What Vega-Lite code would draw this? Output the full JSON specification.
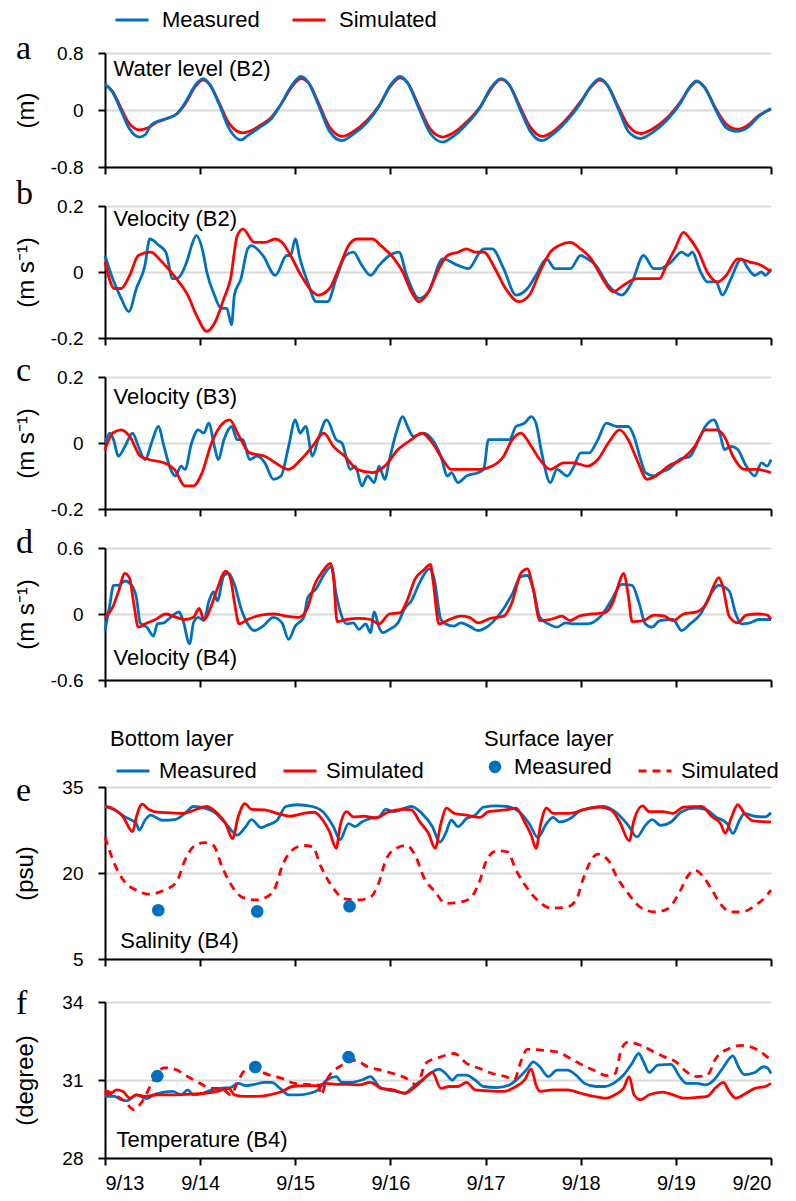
{
"$schema": "https://vega.github.io/schema/vega-lite/v6.json",
"padding": {"left": 13, "top": 0, "right": 5, "bottom": 2},
"config": {
 "font": "Liberation Sans",
 "view": {"stroke": null},
 "axis": {"domainColor": "#000000", "domainWidth": 2, "tickColor": "#000000", "tickWidth": 2, "tickSize": 7, "labelFont": "Liberation Sans", "labelFontSize": 19, "labelColor": "#000000", "titleFont": "Liberation Sans", "titleFontSize": 24, "titleFontWeight": "normal", "titleColor": "#000000", "gridColor": "#d9d9d9", "gridWidth": 2},
 "axisY": {"grid": true, "labelPadding": 15, "titlePadding": 12},
 "axisX": {"grid": false, "labelPadding": 8, "labelFontSize": 20},
 "legend": {"labelFont": "Liberation Sans", "labelFontSize": 22, "labelColor": "#000000", "titleFont": "Liberation Sans", "titleFontSize": 22, "titleFontWeight": "normal", "titleColor": "#000000", "symbolStrokeWidth": 3, "layout": {"top": {"anchor": "start", "margin": 50}}},
 "title": {"font": "Liberation Serif", "fontSize": 34, "fontWeight": "normal", "color": "#000000", "anchor": "start", "frame": "group", "dx": -89, "baseline": "alphabetic"},
 "line": {"strokeWidth": 2.8, "interpolate": "monotone"},
 "text": {"font": "Liberation Sans", "fontSize": 22, "color": "#000000", "align": "left", "baseline": "middle"}
},
"datasets": {
 "a": [
  {"day":0,"value":0.36,"series":"Simulated"},{"day":0.08,"value":0.26,"series":"Simulated"},{"day":0.16,"value":0.05,"series":"Simulated"},{"day":0.25,"value":-0.18,"series":"Simulated"},{"day":0.37,"value":-0.28,"series":"Simulated"},{"day":0.45,"value":-0.25,"series":"Simulated"},{"day":0.55,"value":-0.17,"series":"Simulated"},{"day":0.65,"value":-0.12,"series":"Simulated"},{"day":0.76,"value":-0.05,"series":"Simulated"},{"day":0.85,"value":0.10,"series":"Simulated"},{"day":0.95,"value":0.33,"series":"Simulated"},{"day":1.03,"value":0.42,"series":"Simulated"},{"day":1.10,"value":0.36,"series":"Simulated"},{"day":1.20,"value":0.10,"series":"Simulated"},{"day":1.30,"value":-0.18,"series":"Simulated"},{"day":1.45,"value":-0.32,"series":"Simulated"},{"day":1.55,"value":-0.28,"series":"Simulated"},{"day":1.65,"value":-0.20,"series":"Simulated"},{"day":1.75,"value":-0.10,"series":"Simulated"},{"day":1.85,"value":0.08,"series":"Simulated"},{"day":1.95,"value":0.30,"series":"Simulated"},{"day":2.06,"value":0.44,"series":"Simulated"},{"day":2.14,"value":0.38,"series":"Simulated"},{"day":2.25,"value":0.08,"series":"Simulated"},{"day":2.36,"value":-0.24,"series":"Simulated"},{"day":2.50,"value":-0.37,"series":"Simulated"},{"day":2.60,"value":-0.31,"series":"Simulated"},{"day":2.75,"value":-0.15,"series":"Simulated"},{"day":2.88,"value":0.06,"series":"Simulated"},{"day":3.00,"value":0.33,"series":"Simulated"},{"day":3.10,"value":0.45,"series":"Simulated"},{"day":3.18,"value":0.38,"series":"Simulated"},{"day":3.30,"value":0.05,"series":"Simulated"},{"day":3.42,"value":-0.27,"series":"Simulated"},{"day":3.55,"value":-0.38,"series":"Simulated"},{"day":3.65,"value":-0.33,"series":"Simulated"},{"day":3.80,"value":-0.17,"series":"Simulated"},{"day":3.95,"value":0.06,"series":"Simulated"},{"day":4.05,"value":0.28,"series":"Simulated"},{"day":4.16,"value":0.43,"series":"Simulated"},{"day":4.25,"value":0.35,"series":"Simulated"},{"day":4.36,"value":0.05,"series":"Simulated"},{"day":4.47,"value":-0.24,"series":"Simulated"},{"day":4.60,"value":-0.37,"series":"Simulated"},{"day":4.70,"value":-0.31,"series":"Simulated"},{"day":4.85,"value":-0.13,"series":"Simulated"},{"day":5.00,"value":0.12,"series":"Simulated"},{"day":5.10,"value":0.31,"series":"Simulated"},{"day":5.20,"value":0.42,"series":"Simulated"},{"day":5.28,"value":0.35,"series":"Simulated"},{"day":5.40,"value":0.03,"series":"Simulated"},{"day":5.50,"value":-0.22,"series":"Simulated"},{"day":5.63,"value":-0.33,"series":"Simulated"},{"day":5.75,"value":-0.27,"series":"Simulated"},{"day":5.90,"value":-0.12,"series":"Simulated"},{"day":6.05,"value":0.12,"series":"Simulated"},{"day":6.15,"value":0.32,"series":"Simulated"},{"day":6.22,"value":0.40,"series":"Simulated"},{"day":6.30,"value":0.32,"series":"Simulated"},{"day":6.42,"value":0.02,"series":"Simulated"},{"day":6.53,"value":-0.20,"series":"Simulated"},{"day":6.65,"value":-0.27,"series":"Simulated"},{"day":6.75,"value":-0.22,"series":"Simulated"},{"day":6.88,"value":-0.07,"series":"Simulated"},{"day":7.00,"value":0.01,"series":"Simulated"},
  {"day":0,"value":0.36,"series":"Measured"},{"day":0.08,"value":0.25,"series":"Measured"},{"day":0.16,"value":0.02,"series":"Measured"},{"day":0.25,"value":-0.25,"series":"Measured"},{"day":0.36,"value":-0.38,"series":"Measured"},{"day":0.42,"value":-0.35,"series":"Measured"},{"day":0.48,"value":-0.22,"series":"Measured"},{"day":0.55,"value":-0.16,"series":"Measured"},{"day":0.65,"value":-0.12,"series":"Measured"},{"day":0.76,"value":-0.05,"series":"Measured"},{"day":0.85,"value":0.12,"series":"Measured"},{"day":0.95,"value":0.35,"series":"Measured"},{"day":1.03,"value":0.44,"series":"Measured"},{"day":1.10,"value":0.36,"series":"Measured"},{"day":1.20,"value":0.08,"series":"Measured"},{"day":1.30,"value":-0.25,"series":"Measured"},{"day":1.43,"value":-0.42,"series":"Measured"},{"day":1.50,"value":-0.36,"series":"Measured"},{"day":1.62,"value":-0.25,"series":"Measured"},{"day":1.75,"value":-0.12,"series":"Measured"},{"day":1.85,"value":0.08,"series":"Measured"},{"day":1.95,"value":0.32,"series":"Measured"},{"day":2.06,"value":0.47,"series":"Measured"},{"day":2.14,"value":0.38,"series":"Measured"},{"day":2.25,"value":0.05,"series":"Measured"},{"day":2.36,"value":-0.30,"series":"Measured"},{"day":2.49,"value":-0.43,"series":"Measured"},{"day":2.60,"value":-0.35,"series":"Measured"},{"day":2.75,"value":-0.18,"series":"Measured"},{"day":2.88,"value":0.05,"series":"Measured"},{"day":3.00,"value":0.35,"series":"Measured"},{"day":3.10,"value":0.47,"series":"Measured"},{"day":3.18,"value":0.38,"series":"Measured"},{"day":3.30,"value":0.02,"series":"Measured"},{"day":3.42,"value":-0.33,"series":"Measured"},{"day":3.55,"value":-0.45,"series":"Measured"},{"day":3.65,"value":-0.38,"series":"Measured"},{"day":3.80,"value":-0.20,"series":"Measured"},{"day":3.95,"value":0.05,"series":"Measured"},{"day":4.05,"value":0.30,"series":"Measured"},{"day":4.16,"value":0.44,"series":"Measured"},{"day":4.25,"value":0.35,"series":"Measured"},{"day":4.36,"value":0.02,"series":"Measured"},{"day":4.47,"value":-0.30,"series":"Measured"},{"day":4.59,"value":-0.43,"series":"Measured"},{"day":4.70,"value":-0.35,"series":"Measured"},{"day":4.85,"value":-0.16,"series":"Measured"},{"day":5.00,"value":0.10,"series":"Measured"},{"day":5.10,"value":0.32,"series":"Measured"},{"day":5.20,"value":0.44,"series":"Measured"},{"day":5.28,"value":0.35,"series":"Measured"},{"day":5.40,"value":0.00,"series":"Measured"},{"day":5.50,"value":-0.30,"series":"Measured"},{"day":5.63,"value":-0.40,"series":"Measured"},{"day":5.75,"value":-0.32,"series":"Measured"},{"day":5.90,"value":-0.15,"series":"Measured"},{"day":6.05,"value":0.10,"series":"Measured"},{"day":6.15,"value":0.33,"series":"Measured"},{"day":6.22,"value":0.41,"series":"Measured"},{"day":6.30,"value":0.32,"series":"Measured"},{"day":6.42,"value":0.00,"series":"Measured"},{"day":6.53,"value":-0.25,"series":"Measured"},{"day":6.64,"value":-0.30,"series":"Measured"},{"day":6.75,"value":-0.25,"series":"Measured"},{"day":6.88,"value":-0.08,"series":"Measured"},{"day":7.00,"value":0.02,"series":"Measured"}
 ],
 "b": [
  {"day":0,"value":0.05,"series":"Measured"},{"day":0.08,"value":-0.02,"series":"Measured"},{"day":0.17,"value":-0.08,"series":"Measured"},{"day":0.25,"value":-0.12,"series":"Measured"},{"day":0.33,"value":-0.05,"series":"Measured"},{"day":0.42,"value":0.02,"series":"Measured"},{"day":0.47,"value":0.10,"series":"Measured"},{"day":0.57,"value":0.08,"series":"Measured"},{"day":0.64,"value":0.06,"series":"Measured"},{"day":0.71,"value":-0.02,"series":"Measured"},{"day":0.75,"value":-0.02,"series":"Measured"},{"day":0.87,"value":0.04,"series":"Measured"},{"day":0.91,"value":0.08,"series":"Measured"},{"day":0.96,"value":0.11,"series":"Measured"},{"day":1.03,"value":0.06,"series":"Measured"},{"day":1.07,"value":0.0,"series":"Measured"},{"day":1.15,"value":-0.07,"series":"Measured"},{"day":1.22,"value":-0.11,"series":"Measured"},{"day":1.28,"value":-0.11,"series":"Measured"},{"day":1.33,"value":-0.16,"series":"Measured"},{"day":1.36,"value":-0.07,"series":"Measured"},{"day":1.43,"value":-0.02,"series":"Measured"},{"day":1.50,"value":0.07,"series":"Measured"},{"day":1.54,"value":0.08,"series":"Measured"},{"day":1.66,"value":0.05,"series":"Measured"},{"day":1.79,"value":-0.01,"series":"Measured"},{"day":1.91,"value":0.05,"series":"Measured"},{"day":1.95,"value":0.05,"series":"Measured"},{"day":2.00,"value":0.10,"series":"Measured"},{"day":2.05,"value":0.04,"series":"Measured"},{"day":2.13,"value":-0.03,"series":"Measured"},{"day":2.22,"value":-0.09,"series":"Measured"},{"day":2.34,"value":-0.09,"series":"Measured"},{"day":2.43,"value":-0.02,"series":"Measured"},{"day":2.53,"value":0.05,"series":"Measured"},{"day":2.61,"value":0.06,"series":"Measured"},{"day":2.70,"value":0.02,"series":"Measured"},{"day":2.79,"value":-0.01,"series":"Measured"},{"day":2.88,"value":0.02,"series":"Measured"},{"day":2.99,"value":0.05,"series":"Measured"},{"day":3.09,"value":0.06,"series":"Measured"},{"day":3.17,"value":-0.01,"series":"Measured"},{"day":3.30,"value":-0.08,"series":"Measured"},{"day":3.40,"value":-0.06,"series":"Measured"},{"day":3.55,"value":0.04,"series":"Measured"},{"day":3.71,"value":0.02,"series":"Measured"},{"day":3.82,"value":0.01,"series":"Measured"},{"day":3.94,"value":0.06,"series":"Measured"},{"day":3.98,"value":0.07,"series":"Measured"},{"day":4.07,"value":0.07,"series":"Measured"},{"day":4.19,"value":0.01,"series":"Measured"},{"day":4.32,"value":-0.07,"series":"Measured"},{"day":4.44,"value":-0.05,"series":"Measured"},{"day":4.53,"value":-0.01,"series":"Measured"},{"day":4.64,"value":0.04,"series":"Measured"},{"day":4.73,"value":0.01,"series":"Measured"},{"day":4.89,"value":0.01,"series":"Measured"},{"day":5.00,"value":0.05,"series":"Measured"},{"day":5.07,"value":0.04,"series":"Measured"},{"day":5.16,"value":0.02,"series":"Measured"},{"day":5.29,"value":-0.04,"series":"Measured"},{"day":5.43,"value":-0.07,"series":"Measured"},{"day":5.54,"value":-0.03,"series":"Measured"},{"day":5.66,"value":0.05,"series":"Measured"},{"day":5.77,"value":0.01,"series":"Measured"},{"day":5.83,"value":0.01,"series":"Measured"},{"day":5.95,"value":0.03,"series":"Measured"},{"day":6.06,"value":0.06,"series":"Measured"},{"day":6.13,"value":0.05,"series":"Measured"},{"day":6.17,"value":0.06,"series":"Measured"},{"day":6.26,"value":0.0,"series":"Measured"},{"day":6.33,"value":-0.03,"series":"Measured"},{"day":6.42,"value":-0.03,"series":"Measured"},{"day":6.49,"value":-0.07,"series":"Measured"},{"day":6.58,"value":-0.02,"series":"Measured"},{"day":6.69,"value":0.04,"series":"Measured"},{"day":6.76,"value":0.01,"series":"Measured"},{"day":6.83,"value":-0.01,"series":"Measured"},{"day":6.90,"value":0.0,"series":"Measured"},{"day":6.94,"value":-0.01,"series":"Measured"},{"day":7.0,"value":0.01,"series":"Measured"},
  {"day":0,"value":0.03,"series":"Simulated"},{"day":0.10,"value":-0.05,"series":"Simulated"},{"day":0.17,"value":-0.05,"series":"Simulated"},{"day":0.26,"value":-0.01,"series":"Simulated"},{"day":0.35,"value":0.05,"series":"Simulated"},{"day":0.48,"value":0.06,"series":"Simulated"},{"day":0.60,"value":0.03,"series":"Simulated"},{"day":0.75,"value":-0.02,"series":"Simulated"},{"day":0.87,"value":-0.07,"series":"Simulated"},{"day":0.96,"value":-0.13,"series":"Simulated"},{"day":1.07,"value":-0.18,"series":"Simulated"},{"day":1.16,"value":-0.15,"series":"Simulated"},{"day":1.25,"value":-0.08,"series":"Simulated"},{"day":1.32,"value":-0.02,"series":"Simulated"},{"day":1.39,"value":0.11,"series":"Simulated"},{"day":1.45,"value":0.13,"series":"Simulated"},{"day":1.57,"value":0.09,"series":"Simulated"},{"day":1.68,"value":0.09,"series":"Simulated"},{"day":1.79,"value":0.10,"series":"Simulated"},{"day":1.86,"value":0.09,"series":"Simulated"},{"day":1.95,"value":0.05,"series":"Simulated"},{"day":2.06,"value":-0.01,"series":"Simulated"},{"day":2.18,"value":-0.06,"series":"Simulated"},{"day":2.24,"value":-0.07,"series":"Simulated"},{"day":2.36,"value":-0.05,"series":"Simulated"},{"day":2.47,"value":0.02,"series":"Simulated"},{"day":2.56,"value":0.08,"series":"Simulated"},{"day":2.65,"value":0.10,"series":"Simulated"},{"day":2.81,"value":0.10,"series":"Simulated"},{"day":2.90,"value":0.08,"series":"Simulated"},{"day":3.04,"value":0.04,"series":"Simulated"},{"day":3.13,"value":0.0,"series":"Simulated"},{"day":3.22,"value":-0.06,"series":"Simulated"},{"day":3.30,"value":-0.09,"series":"Simulated"},{"day":3.40,"value":-0.06,"series":"Simulated"},{"day":3.51,"value":0.01,"series":"Simulated"},{"day":3.60,"value":0.05,"series":"Simulated"},{"day":3.71,"value":0.06,"series":"Simulated"},{"day":3.80,"value":0.07,"series":"Simulated"},{"day":3.89,"value":0.06,"series":"Simulated"},{"day":3.98,"value":0.06,"series":"Simulated"},{"day":4.10,"value":0.01,"series":"Simulated"},{"day":4.21,"value":-0.05,"series":"Simulated"},{"day":4.35,"value":-0.09,"series":"Simulated"},{"day":4.46,"value":-0.07,"series":"Simulated"},{"day":4.57,"value":0.0,"series":"Simulated"},{"day":4.68,"value":0.06,"series":"Simulated"},{"day":4.77,"value":0.08,"series":"Simulated"},{"day":4.89,"value":0.09,"series":"Simulated"},{"day":5.00,"value":0.07,"series":"Simulated"},{"day":5.11,"value":0.04,"series":"Simulated"},{"day":5.23,"value":-0.02,"series":"Simulated"},{"day":5.34,"value":-0.06,"series":"Simulated"},{"day":5.45,"value":-0.04,"series":"Simulated"},{"day":5.59,"value":-0.02,"series":"Simulated"},{"day":5.72,"value":-0.02,"series":"Simulated"},{"day":5.83,"value":-0.02,"series":"Simulated"},{"day":5.90,"value":0.02,"series":"Simulated"},{"day":5.99,"value":0.07,"series":"Simulated"},{"day":6.08,"value":0.12,"series":"Simulated"},{"day":6.15,"value":0.10,"series":"Simulated"},{"day":6.24,"value":0.06,"series":"Simulated"},{"day":6.33,"value":0.0,"series":"Simulated"},{"day":6.44,"value":-0.03,"series":"Simulated"},{"day":6.53,"value":-0.01,"series":"Simulated"},{"day":6.65,"value":0.04,"series":"Simulated"},{"day":6.78,"value":0.03,"series":"Simulated"},{"day":6.90,"value":0.02,"series":"Simulated"},{"day":7.0,"value":0.0,"series":"Simulated"}
 ],
 "c": [
  {"day":0,"value":0.0,"series":"Measured"},{"day":0.05,"value":0.03,"series":"Measured"},{"day":0.09,"value":0.01,"series":"Measured"},{"day":0.14,"value":-0.04,"series":"Measured"},{"day":0.21,"value":-0.01,"series":"Measured"},{"day":0.29,"value":0.03,"series":"Measured"},{"day":0.35,"value":-0.01,"series":"Measured"},{"day":0.42,"value":-0.05,"series":"Measured"},{"day":0.50,"value":0.01,"series":"Measured"},{"day":0.56,"value":0.05,"series":"Measured"},{"day":0.62,"value":-0.01,"series":"Measured"},{"day":0.69,"value":-0.08,"series":"Measured"},{"day":0.74,"value":-0.10,"series":"Measured"},{"day":0.80,"value":-0.07,"series":"Measured"},{"day":0.84,"value":-0.08,"series":"Measured"},{"day":0.91,"value":0.0,"series":"Measured"},{"day":0.98,"value":0.04,"series":"Measured"},{"day":1.04,"value":0.03,"series":"Measured"},{"day":1.09,"value":0.06,"series":"Measured"},{"day":1.15,"value":-0.01,"series":"Measured"},{"day":1.19,"value":-0.05,"series":"Measured"},{"day":1.25,"value":0.01,"series":"Measured"},{"day":1.33,"value":0.05,"series":"Measured"},{"day":1.39,"value":0.01,"series":"Measured"},{"day":1.45,"value":0.01,"series":"Measured"},{"day":1.52,"value":-0.05,"series":"Measured"},{"day":1.60,"value":-0.04,"series":"Measured"},{"day":1.68,"value":-0.06,"series":"Measured"},{"day":1.77,"value":-0.11,"series":"Measured"},{"day":1.85,"value":-0.10,"series":"Measured"},{"day":1.93,"value":-0.01,"series":"Measured"},{"day":2.00,"value":0.07,"series":"Measured"},{"day":2.05,"value":0.03,"series":"Measured"},{"day":2.11,"value":0.05,"series":"Measured"},{"day":2.18,"value":-0.04,"series":"Measured"},{"day":2.24,"value":0.01,"series":"Measured"},{"day":2.33,"value":0.07,"series":"Measured"},{"day":2.43,"value":0.01,"series":"Measured"},{"day":2.49,"value":0.0,"series":"Measured"},{"day":2.58,"value":-0.08,"series":"Measured"},{"day":2.63,"value":-0.07,"series":"Measured"},{"day":2.70,"value":-0.13,"series":"Measured"},{"day":2.76,"value":-0.10,"series":"Measured"},{"day":2.83,"value":-0.12,"series":"Measured"},{"day":2.88,"value":-0.07,"series":"Measured"},{"day":2.94,"value":-0.11,"series":"Measured"},{"day":2.99,"value":-0.05,"series":"Measured"},{"day":3.06,"value":0.03,"series":"Measured"},{"day":3.13,"value":0.08,"series":"Measured"},{"day":3.18,"value":0.05,"series":"Measured"},{"day":3.24,"value":0.02,"series":"Measured"},{"day":3.35,"value":0.03,"series":"Measured"},{"day":3.44,"value":0.01,"series":"Measured"},{"day":3.53,"value":-0.04,"series":"Measured"},{"day":3.60,"value":-0.10,"series":"Measured"},{"day":3.64,"value":-0.09,"series":"Measured"},{"day":3.71,"value":-0.12,"series":"Measured"},{"day":3.80,"value":-0.10,"series":"Measured"},{"day":3.92,"value":-0.09,"series":"Measured"},{"day":3.98,"value":-0.08,"series":"Measured"},{"day":4.03,"value":0.01,"series":"Measured"},{"day":4.10,"value":0.01,"series":"Measured"},{"day":4.19,"value":0.01,"series":"Measured"},{"day":4.25,"value":0.01,"series":"Measured"},{"day":4.32,"value":0.05,"series":"Measured"},{"day":4.41,"value":0.06,"series":"Measured"},{"day":4.48,"value":0.08,"series":"Measured"},{"day":4.53,"value":0.06,"series":"Measured"},{"day":4.59,"value":-0.03,"series":"Measured"},{"day":4.68,"value":-0.12,"series":"Measured"},{"day":4.75,"value":-0.08,"series":"Measured"},{"day":4.86,"value":-0.10,"series":"Measured"},{"day":4.93,"value":-0.07,"series":"Measured"},{"day":5.00,"value":-0.03,"series":"Measured"},{"day":5.09,"value":-0.03,"series":"Measured"},{"day":5.18,"value":0.01,"series":"Measured"},{"day":5.27,"value":0.06,"series":"Measured"},{"day":5.38,"value":0.05,"series":"Measured"},{"day":5.50,"value":0.05,"series":"Measured"},{"day":5.56,"value":0.02,"series":"Measured"},{"day":5.63,"value":-0.05,"series":"Measured"},{"day":5.68,"value":-0.09,"series":"Measured"},{"day":5.77,"value":-0.10,"series":"Measured"},{"day":5.83,"value":-0.09,"series":"Measured"},{"day":5.92,"value":-0.08,"series":"Measured"},{"day":6.04,"value":-0.05,"series":"Measured"},{"day":6.15,"value":-0.04,"series":"Measured"},{"day":6.24,"value":0.01,"series":"Measured"},{"day":6.31,"value":0.05,"series":"Measured"},{"day":6.40,"value":0.07,"series":"Measured"},{"day":6.47,"value":0.02,"series":"Measured"},{"day":6.51,"value":-0.02,"series":"Measured"},{"day":6.58,"value":-0.01,"series":"Measured"},{"day":6.65,"value":-0.02,"series":"Measured"},{"day":6.74,"value":-0.07,"series":"Measured"},{"day":6.83,"value":-0.10,"series":"Measured"},{"day":6.90,"value":-0.06,"series":"Measured"},{"day":6.96,"value":-0.07,"series":"Measured"},{"day":7.0,"value":-0.05,"series":"Measured"},
  {"day":0,"value":-0.02,"series":"Simulated"},{"day":0.08,"value":0.03,"series":"Simulated"},{"day":0.17,"value":0.04,"series":"Simulated"},{"day":0.26,"value":0.02,"series":"Simulated"},{"day":0.37,"value":-0.04,"series":"Simulated"},{"day":0.46,"value":-0.05,"series":"Simulated"},{"day":0.62,"value":-0.06,"series":"Simulated"},{"day":0.73,"value":-0.08,"series":"Simulated"},{"day":0.84,"value":-0.13,"series":"Simulated"},{"day":0.93,"value":-0.13,"series":"Simulated"},{"day":1.02,"value":-0.09,"series":"Simulated"},{"day":1.12,"value":0.0,"series":"Simulated"},{"day":1.21,"value":0.05,"series":"Simulated"},{"day":1.31,"value":0.07,"series":"Simulated"},{"day":1.41,"value":0.02,"series":"Simulated"},{"day":1.52,"value":-0.03,"series":"Simulated"},{"day":1.68,"value":-0.04,"series":"Simulated"},{"day":1.79,"value":-0.06,"series":"Simulated"},{"day":1.93,"value":-0.08,"series":"Simulated"},{"day":2.06,"value":-0.05,"series":"Simulated"},{"day":2.18,"value":-0.01,"series":"Simulated"},{"day":2.30,"value":0.03,"series":"Simulated"},{"day":2.40,"value":-0.01,"series":"Simulated"},{"day":2.52,"value":-0.04,"series":"Simulated"},{"day":2.65,"value":-0.08,"series":"Simulated"},{"day":2.81,"value":-0.09,"series":"Simulated"},{"day":2.94,"value":-0.07,"series":"Simulated"},{"day":3.08,"value":-0.02,"series":"Simulated"},{"day":3.22,"value":0.01,"series":"Simulated"},{"day":3.33,"value":0.03,"series":"Simulated"},{"day":3.44,"value":0.0,"series":"Simulated"},{"day":3.55,"value":-0.05,"series":"Simulated"},{"day":3.64,"value":-0.08,"series":"Simulated"},{"day":3.94,"value":-0.08,"series":"Simulated"},{"day":4.07,"value":-0.07,"series":"Simulated"},{"day":4.19,"value":-0.04,"series":"Simulated"},{"day":4.28,"value":0.01,"series":"Simulated"},{"day":4.37,"value":0.03,"series":"Simulated"},{"day":4.48,"value":-0.01,"series":"Simulated"},{"day":4.57,"value":-0.05,"series":"Simulated"},{"day":4.68,"value":-0.08,"series":"Simulated"},{"day":4.82,"value":-0.06,"series":"Simulated"},{"day":4.93,"value":-0.06,"series":"Simulated"},{"day":5.07,"value":-0.07,"series":"Simulated"},{"day":5.18,"value":-0.05,"series":"Simulated"},{"day":5.29,"value":0.0,"series":"Simulated"},{"day":5.41,"value":0.04,"series":"Simulated"},{"day":5.50,"value":0.01,"series":"Simulated"},{"day":5.59,"value":-0.05,"series":"Simulated"},{"day":5.70,"value":-0.11,"series":"Simulated"},{"day":5.79,"value":-0.10,"series":"Simulated"},{"day":5.92,"value":-0.07,"series":"Simulated"},{"day":6.06,"value":-0.05,"series":"Simulated"},{"day":6.20,"value":-0.01,"series":"Simulated"},{"day":6.31,"value":0.04,"series":"Simulated"},{"day":6.42,"value":0.04,"series":"Simulated"},{"day":6.51,"value":0.02,"series":"Simulated"},{"day":6.60,"value":-0.04,"series":"Simulated"},{"day":6.72,"value":-0.08,"series":"Simulated"},{"day":6.85,"value":-0.08,"series":"Simulated"},{"day":7.0,"value":-0.09,"series":"Simulated"}
 ],
 "d": [
  {"day":0,"value":-0.15,"series":"Measured"},{"day":0.05,"value":0.08,"series":"Measured"},{"day":0.09,"value":0.26,"series":"Measured"},{"day":0.14,"value":0.26,"series":"Measured"},{"day":0.21,"value":0.30,"series":"Measured"},{"day":0.28,"value":0.26,"series":"Measured"},{"day":0.33,"value":0.15,"series":"Measured"},{"day":0.37,"value":-0.08,"series":"Measured"},{"day":0.44,"value":-0.12,"series":"Measured"},{"day":0.51,"value":-0.20,"series":"Measured"},{"day":0.55,"value":-0.09,"series":"Measured"},{"day":0.62,"value":-0.08,"series":"Measured"},{"day":0.69,"value":-0.03,"series":"Measured"},{"day":0.78,"value":0.02,"series":"Measured"},{"day":0.82,"value":-0.06,"series":"Measured"},{"day":0.89,"value":-0.27,"series":"Measured"},{"day":0.93,"value":-0.08,"series":"Measured"},{"day":0.98,"value":-0.03,"series":"Measured"},{"day":1.04,"value":-0.06,"series":"Measured"},{"day":1.09,"value":0.11,"series":"Measured"},{"day":1.14,"value":0.20,"series":"Measured"},{"day":1.18,"value":0.12,"series":"Measured"},{"day":1.25,"value":0.35,"series":"Measured"},{"day":1.30,"value":0.37,"series":"Measured"},{"day":1.36,"value":0.27,"series":"Measured"},{"day":1.43,"value":0.05,"series":"Measured"},{"day":1.50,"value":-0.09,"series":"Measured"},{"day":1.57,"value":-0.15,"series":"Measured"},{"day":1.66,"value":-0.11,"series":"Measured"},{"day":1.77,"value":-0.03,"series":"Measured"},{"day":1.86,"value":-0.08,"series":"Measured"},{"day":1.93,"value":-0.23,"series":"Measured"},{"day":2.00,"value":-0.11,"series":"Measured"},{"day":2.09,"value":-0.03,"series":"Measured"},{"day":2.13,"value":0.15,"series":"Measured"},{"day":2.22,"value":0.23,"series":"Measured"},{"day":2.31,"value":0.37,"series":"Measured"},{"day":2.38,"value":0.43,"series":"Measured"},{"day":2.43,"value":0.18,"series":"Measured"},{"day":2.47,"value":0.03,"series":"Measured"},{"day":2.54,"value":-0.09,"series":"Measured"},{"day":2.61,"value":-0.08,"series":"Measured"},{"day":2.67,"value":-0.14,"series":"Measured"},{"day":2.74,"value":-0.09,"series":"Measured"},{"day":2.79,"value":-0.17,"series":"Measured"},{"day":2.83,"value":0.02,"series":"Measured"},{"day":2.88,"value":-0.12,"series":"Measured"},{"day":2.92,"value":-0.17,"series":"Measured"},{"day":2.99,"value":-0.14,"series":"Measured"},{"day":3.08,"value":-0.08,"series":"Measured"},{"day":3.15,"value":0.05,"series":"Measured"},{"day":3.22,"value":0.12,"series":"Measured"},{"day":3.31,"value":0.29,"series":"Measured"},{"day":3.41,"value":0.41,"series":"Measured"},{"day":3.46,"value":0.32,"series":"Measured"},{"day":3.53,"value":-0.05,"series":"Measured"},{"day":3.58,"value":-0.09,"series":"Measured"},{"day":3.67,"value":-0.11,"series":"Measured"},{"day":3.74,"value":-0.08,"series":"Measured"},{"day":3.83,"value":-0.11,"series":"Measured"},{"day":3.92,"value":-0.15,"series":"Measured"},{"day":4.01,"value":-0.12,"series":"Measured"},{"day":4.12,"value":-0.03,"series":"Measured"},{"day":4.19,"value":0.05,"series":"Measured"},{"day":4.28,"value":0.18,"series":"Measured"},{"day":4.37,"value":0.34,"series":"Measured"},{"day":4.44,"value":0.35,"series":"Measured"},{"day":4.50,"value":0.23,"series":"Measured"},{"day":4.57,"value":-0.03,"series":"Measured"},{"day":4.66,"value":-0.09,"series":"Measured"},{"day":4.75,"value":-0.12,"series":"Measured"},{"day":4.84,"value":-0.08,"series":"Measured"},{"day":4.93,"value":-0.09,"series":"Measured"},{"day":5.07,"value":-0.09,"series":"Measured"},{"day":5.20,"value":-0.03,"series":"Measured"},{"day":5.32,"value":0.12,"series":"Measured"},{"day":5.43,"value":0.27,"series":"Measured"},{"day":5.54,"value":0.26,"series":"Measured"},{"day":5.61,"value":0.11,"series":"Measured"},{"day":5.68,"value":-0.09,"series":"Measured"},{"day":5.75,"value":-0.12,"series":"Measured"},{"day":5.83,"value":-0.06,"series":"Measured"},{"day":5.97,"value":-0.05,"series":"Measured"},{"day":6.06,"value":-0.15,"series":"Measured"},{"day":6.15,"value":-0.09,"series":"Measured"},{"day":6.26,"value":0.0,"series":"Measured"},{"day":6.38,"value":0.20,"series":"Measured"},{"day":6.45,"value":0.26,"series":"Measured"},{"day":6.56,"value":0.21,"series":"Measured"},{"day":6.63,"value":0.0,"series":"Measured"},{"day":6.69,"value":-0.09,"series":"Measured"},{"day":6.78,"value":-0.08,"series":"Measured"},{"day":6.87,"value":-0.05,"series":"Measured"},{"day":7.0,"value":-0.05,"series":"Measured"},
  {"day":0,"value":-0.03,"series":"Simulated"},{"day":0.08,"value":0.06,"series":"Simulated"},{"day":0.14,"value":0.20,"series":"Simulated"},{"day":0.21,"value":0.37,"series":"Simulated"},{"day":0.26,"value":0.32,"series":"Simulated"},{"day":0.30,"value":0.11,"series":"Simulated"},{"day":0.35,"value":-0.12,"series":"Simulated"},{"day":0.42,"value":-0.09,"series":"Simulated"},{"day":0.53,"value":-0.05,"series":"Simulated"},{"day":0.64,"value":0.0,"series":"Simulated"},{"day":0.75,"value":-0.03,"series":"Simulated"},{"day":0.84,"value":-0.05,"series":"Simulated"},{"day":0.93,"value":-0.03,"series":"Simulated"},{"day":0.99,"value":0.05,"series":"Simulated"},{"day":1.04,"value":-0.05,"series":"Simulated"},{"day":1.12,"value":0.08,"series":"Simulated"},{"day":1.18,"value":0.23,"series":"Simulated"},{"day":1.27,"value":0.39,"series":"Simulated"},{"day":1.32,"value":0.32,"series":"Simulated"},{"day":1.36,"value":0.11,"series":"Simulated"},{"day":1.41,"value":-0.09,"series":"Simulated"},{"day":1.50,"value":-0.05,"series":"Simulated"},{"day":1.64,"value":-0.01,"series":"Simulated"},{"day":1.77,"value":0.0,"series":"Simulated"},{"day":1.91,"value":-0.02,"series":"Simulated"},{"day":2.04,"value":-0.03,"series":"Simulated"},{"day":2.13,"value":0.06,"series":"Simulated"},{"day":2.20,"value":0.26,"series":"Simulated"},{"day":2.29,"value":0.39,"series":"Simulated"},{"day":2.37,"value":0.46,"series":"Simulated"},{"day":2.40,"value":0.35,"series":"Simulated"},{"day":2.44,"value":-0.07,"series":"Simulated"},{"day":2.54,"value":-0.05,"series":"Simulated"},{"day":2.67,"value":-0.04,"series":"Simulated"},{"day":2.79,"value":-0.05,"series":"Simulated"},{"day":2.88,"value":-0.09,"series":"Simulated"},{"day":2.99,"value":0.0,"series":"Simulated"},{"day":3.10,"value":0.01,"series":"Simulated"},{"day":3.17,"value":0.11,"series":"Simulated"},{"day":3.26,"value":0.32,"series":"Simulated"},{"day":3.35,"value":0.40,"series":"Simulated"},{"day":3.42,"value":0.45,"series":"Simulated"},{"day":3.45,"value":0.29,"series":"Simulated"},{"day":3.51,"value":-0.09,"series":"Simulated"},{"day":3.62,"value":-0.05,"series":"Simulated"},{"day":3.74,"value":-0.02,"series":"Simulated"},{"day":3.83,"value":-0.03,"series":"Simulated"},{"day":3.92,"value":-0.08,"series":"Simulated"},{"day":4.05,"value":-0.04,"series":"Simulated"},{"day":4.19,"value":-0.02,"series":"Simulated"},{"day":4.28,"value":0.11,"series":"Simulated"},{"day":4.37,"value":0.37,"series":"Simulated"},{"day":4.44,"value":0.41,"series":"Simulated"},{"day":4.50,"value":0.23,"series":"Simulated"},{"day":4.57,"value":-0.06,"series":"Simulated"},{"day":4.68,"value":-0.05,"series":"Simulated"},{"day":4.80,"value":-0.02,"series":"Simulated"},{"day":4.89,"value":-0.06,"series":"Simulated"},{"day":4.98,"value":-0.02,"series":"Simulated"},{"day":5.11,"value":0.0,"series":"Simulated"},{"day":5.25,"value":0.01,"series":"Simulated"},{"day":5.34,"value":0.11,"series":"Simulated"},{"day":5.41,"value":0.30,"series":"Simulated"},{"day":5.45,"value":0.37,"series":"Simulated"},{"day":5.50,"value":0.17,"series":"Simulated"},{"day":5.54,"value":-0.07,"series":"Simulated"},{"day":5.66,"value":-0.06,"series":"Simulated"},{"day":5.77,"value":-0.01,"series":"Simulated"},{"day":5.88,"value":-0.02,"series":"Simulated"},{"day":5.97,"value":-0.06,"series":"Simulated"},{"day":6.08,"value":0.0,"series":"Simulated"},{"day":6.22,"value":0.02,"series":"Simulated"},{"day":6.33,"value":0.11,"series":"Simulated"},{"day":6.40,"value":0.26,"series":"Simulated"},{"day":6.45,"value":0.33,"series":"Simulated"},{"day":6.49,"value":0.26,"series":"Simulated"},{"day":6.56,"value":-0.02,"series":"Simulated"},{"day":6.65,"value":-0.08,"series":"Simulated"},{"day":6.74,"value":-0.01,"series":"Simulated"},{"day":6.87,"value":0.0,"series":"Simulated"},{"day":6.96,"value":-0.01,"series":"Simulated"},{"day":7.0,"value":-0.05,"series":"Simulated"}
 ],
 "e": [
  {"day":0,"value":31.6,"series":"Measured"},{"day":0.10,"value":31.0,"series":"Measured"},{"day":0.21,"value":29.8,"series":"Measured"},{"day":0.33,"value":28.6,"series":"Measured"},{"day":0.36,"value":27.5,"series":"Measured"},{"day":0.42,"value":29.2,"series":"Measured"},{"day":0.48,"value":30.1,"series":"Measured"},{"day":0.60,"value":29.2,"series":"Measured"},{"day":0.73,"value":29.3,"series":"Measured"},{"day":0.84,"value":30.4,"series":"Measured"},{"day":0.93,"value":31.6,"series":"Measured"},{"day":1.05,"value":31.3,"series":"Measured"},{"day":1.14,"value":30.7,"series":"Measured"},{"day":1.27,"value":28.6,"series":"Measured"},{"day":1.39,"value":26.6,"series":"Measured"},{"day":1.48,"value":28.1,"series":"Measured"},{"day":1.54,"value":29.3,"series":"Measured"},{"day":1.64,"value":27.9,"series":"Measured"},{"day":1.70,"value":28.3,"series":"Measured"},{"day":1.81,"value":29.2,"series":"Measured"},{"day":1.90,"value":31.6,"series":"Measured"},{"day":2.02,"value":31.9,"series":"Measured"},{"day":2.18,"value":31.6,"series":"Measured"},{"day":2.29,"value":30.7,"series":"Measured"},{"day":2.40,"value":28.1,"series":"Measured"},{"day":2.47,"value":25.8,"series":"Measured"},{"day":2.56,"value":28.6,"series":"Measured"},{"day":2.63,"value":28.1,"series":"Measured"},{"day":2.70,"value":28.9,"series":"Measured"},{"day":2.79,"value":29.5,"series":"Measured"},{"day":2.88,"value":29.8,"series":"Measured"},{"day":2.95,"value":31.1,"series":"Measured"},{"day":3.04,"value":30.7,"series":"Measured"},{"day":3.15,"value":31.3,"series":"Measured"},{"day":3.22,"value":31.6,"series":"Measured"},{"day":3.33,"value":30.4,"series":"Measured"},{"day":3.44,"value":28.1,"series":"Measured"},{"day":3.52,"value":25.4,"series":"Measured"},{"day":3.58,"value":26.9,"series":"Measured"},{"day":3.64,"value":29.2,"series":"Measured"},{"day":3.71,"value":28.1,"series":"Measured"},{"day":3.80,"value":29.5,"series":"Measured"},{"day":3.89,"value":30.1,"series":"Measured"},{"day":3.98,"value":31.5,"series":"Measured"},{"day":4.12,"value":31.7,"series":"Measured"},{"day":4.23,"value":31.6,"series":"Measured"},{"day":4.35,"value":30.7,"series":"Measured"},{"day":4.46,"value":28.6,"series":"Measured"},{"day":4.55,"value":26.2,"series":"Measured"},{"day":4.64,"value":28.6,"series":"Measured"},{"day":4.71,"value":29.7,"series":"Measured"},{"day":4.78,"value":28.9,"series":"Measured"},{"day":4.89,"value":29.5,"series":"Measured"},{"day":4.98,"value":30.7,"series":"Measured"},{"day":5.09,"value":31.3,"series":"Measured"},{"day":5.23,"value":31.6,"series":"Measured"},{"day":5.36,"value":30.7,"series":"Measured"},{"day":5.50,"value":28.3,"series":"Measured"},{"day":5.59,"value":26.3,"series":"Measured"},{"day":5.68,"value":28.3,"series":"Measured"},{"day":5.75,"value":29.3,"series":"Measured"},{"day":5.84,"value":28.3,"series":"Measured"},{"day":5.95,"value":28.9,"series":"Measured"},{"day":6.06,"value":30.7,"series":"Measured"},{"day":6.20,"value":31.3,"series":"Measured"},{"day":6.31,"value":31.1,"series":"Measured"},{"day":6.42,"value":29.8,"series":"Measured"},{"day":6.54,"value":28.6,"series":"Measured"},{"day":6.60,"value":26.9,"series":"Measured"},{"day":6.67,"value":29.2,"series":"Measured"},{"day":6.72,"value":30.4,"series":"Measured"},{"day":6.83,"value":29.9,"series":"Measured"},{"day":6.94,"value":29.8,"series":"Measured"},{"day":7.0,"value":30.5,"series":"Measured"},
  {"day":0,"value":31.7,"series":"Simulated"},{"day":0.10,"value":31.1,"series":"Simulated"},{"day":0.19,"value":29.8,"series":"Simulated"},{"day":0.29,"value":27.2,"series":"Simulated"},{"day":0.33,"value":29.8,"series":"Simulated"},{"day":0.39,"value":32.0,"series":"Simulated"},{"day":0.46,"value":31.1,"series":"Simulated"},{"day":0.55,"value":30.6,"series":"Simulated"},{"day":0.69,"value":30.5,"series":"Simulated"},{"day":0.82,"value":30.4,"series":"Simulated"},{"day":0.93,"value":30.9,"series":"Simulated"},{"day":1.07,"value":31.6,"series":"Simulated"},{"day":1.18,"value":30.4,"series":"Simulated"},{"day":1.27,"value":28.6,"series":"Simulated"},{"day":1.34,"value":26.0,"series":"Simulated"},{"day":1.40,"value":29.8,"series":"Simulated"},{"day":1.47,"value":32.1,"series":"Simulated"},{"day":1.54,"value":31.1,"series":"Simulated"},{"day":1.68,"value":31.0,"series":"Simulated"},{"day":1.81,"value":30.4,"series":"Simulated"},{"day":1.95,"value":29.9,"series":"Simulated"},{"day":2.09,"value":30.4,"series":"Simulated"},{"day":2.20,"value":30.6,"series":"Simulated"},{"day":2.29,"value":29.2,"series":"Simulated"},{"day":2.36,"value":27.2,"series":"Simulated"},{"day":2.43,"value":24.3,"series":"Simulated"},{"day":2.47,"value":28.1,"series":"Simulated"},{"day":2.54,"value":30.7,"series":"Simulated"},{"day":2.61,"value":29.8,"series":"Simulated"},{"day":2.72,"value":29.9,"series":"Simulated"},{"day":2.85,"value":29.6,"series":"Simulated"},{"day":2.97,"value":30.6,"series":"Simulated"},{"day":3.13,"value":31.1,"series":"Simulated"},{"day":3.22,"value":31.0,"series":"Simulated"},{"day":3.31,"value":28.9,"series":"Simulated"},{"day":3.40,"value":26.9,"series":"Simulated"},{"day":3.47,"value":24.3,"series":"Simulated"},{"day":3.53,"value":28.6,"series":"Simulated"},{"day":3.59,"value":31.3,"series":"Simulated"},{"day":3.67,"value":30.4,"series":"Simulated"},{"day":3.80,"value":30.1,"series":"Simulated"},{"day":3.94,"value":29.7,"series":"Simulated"},{"day":4.03,"value":30.7,"series":"Simulated"},{"day":4.21,"value":31.0,"series":"Simulated"},{"day":4.32,"value":31.3,"series":"Simulated"},{"day":4.41,"value":28.9,"series":"Simulated"},{"day":4.48,"value":26.6,"series":"Simulated"},{"day":4.53,"value":24.3,"series":"Simulated"},{"day":4.58,"value":28.6,"series":"Simulated"},{"day":4.64,"value":31.3,"series":"Simulated"},{"day":4.71,"value":30.4,"series":"Simulated"},{"day":4.89,"value":30.4,"series":"Simulated"},{"day":5.02,"value":31.0,"series":"Simulated"},{"day":5.20,"value":31.5,"series":"Simulated"},{"day":5.32,"value":31.0,"series":"Simulated"},{"day":5.41,"value":28.9,"series":"Simulated"},{"day":5.51,"value":25.6,"series":"Simulated"},{"day":5.56,"value":29.2,"series":"Simulated"},{"day":5.65,"value":31.7,"series":"Simulated"},{"day":5.72,"value":30.7,"series":"Simulated"},{"day":5.86,"value":30.7,"series":"Simulated"},{"day":5.97,"value":30.4,"series":"Simulated"},{"day":6.08,"value":31.5,"series":"Simulated"},{"day":6.27,"value":31.6,"series":"Simulated"},{"day":6.38,"value":29.8,"series":"Simulated"},{"day":6.47,"value":28.6,"series":"Simulated"},{"day":6.52,"value":26.9,"series":"Simulated"},{"day":6.58,"value":29.5,"series":"Simulated"},{"day":6.65,"value":31.9,"series":"Simulated"},{"day":6.72,"value":30.4,"series":"Simulated"},{"day":6.81,"value":29.1,"series":"Simulated"},{"day":7.0,"value":28.9,"series":"Simulated"}
 ],
 "eS": [
  {"day":0,"value":26.3},{"day":0.10,"value":21.6},{"day":0.21,"value":18.4},{"day":0.33,"value":17.0},{"day":0.46,"value":16.3},{"day":0.62,"value":17.0},{"day":0.75,"value":18.4},{"day":0.84,"value":22.2},{"day":0.93,"value":24.6},{"day":1.05,"value":25.3},{"day":1.14,"value":24.8},{"day":1.23,"value":21.1},{"day":1.32,"value":18.1},{"day":1.45,"value":15.7},{"day":1.59,"value":15.3},{"day":1.70,"value":15.8},{"day":1.79,"value":17.5},{"day":1.86,"value":21.1},{"day":1.95,"value":23.7},{"day":2.09,"value":24.8},{"day":2.18,"value":24.6},{"day":2.27,"value":21.1},{"day":2.38,"value":17.8},{"day":2.52,"value":15.5},{"day":2.67,"value":15.3},{"day":2.79,"value":15.8},{"day":2.88,"value":18.4},{"day":2.95,"value":22.2},{"day":3.06,"value":24.3},{"day":3.17,"value":24.8},{"day":3.26,"value":23.1},{"day":3.35,"value":19.3},{"day":3.47,"value":16.7},{"day":3.58,"value":14.7},{"day":3.73,"value":14.9},{"day":3.85,"value":15.8},{"day":3.94,"value":18.7},{"day":4.01,"value":22.2},{"day":4.12,"value":23.9},{"day":4.23,"value":23.7},{"day":4.32,"value":20.5},{"day":4.44,"value":17.3},{"day":4.55,"value":15.2},{"day":4.68,"value":13.9},{"day":4.84,"value":14.0},{"day":4.95,"value":15.2},{"day":5.02,"value":18.7},{"day":5.09,"value":21.6},{"day":5.18,"value":23.3},{"day":5.29,"value":22.2},{"day":5.38,"value":19.3},{"day":5.50,"value":16.4},{"day":5.63,"value":14.0},{"day":5.79,"value":13.2},{"day":5.92,"value":13.8},{"day":6.04,"value":16.7},{"day":6.13,"value":19.6},{"day":6.20,"value":20.5},{"day":6.29,"value":19.3},{"day":6.38,"value":17.0},{"day":6.47,"value":14.6},{"day":6.58,"value":13.2},{"day":6.69,"value":13.2},{"day":6.83,"value":14.3},{"day":6.94,"value":15.8},{"day":7.0,"value":17.0}
 ],
 "eP": [
  {"day":0.56,"value":13.5,"kind":"sM"},{"day":1.60,"value":13.3,"kind":"sM"},{"day":2.57,"value":14.2,"kind":"sM"}
 ],
 "f": [
  {"day":0,"value":30.37,"series":"Measured"},{"day":0.10,"value":30.37,"series":"Measured"},{"day":0.17,"value":30.24,"series":"Measured"},{"day":0.23,"value":30.2,"series":"Measured"},{"day":0.33,"value":30.43,"series":"Measured"},{"day":0.44,"value":30.28,"series":"Measured"},{"day":0.51,"value":30.43,"series":"Measured"},{"day":0.62,"value":30.53,"series":"Measured"},{"day":0.71,"value":30.56,"series":"Measured"},{"day":0.80,"value":30.43,"series":"Measured"},{"day":0.87,"value":30.62,"series":"Measured"},{"day":0.93,"value":30.43,"series":"Measured"},{"day":1.03,"value":30.49,"series":"Measured"},{"day":1.12,"value":30.62,"series":"Measured"},{"day":1.21,"value":30.68,"series":"Measured"},{"day":1.32,"value":30.71,"series":"Measured"},{"day":1.40,"value":30.87,"series":"Measured"},{"day":1.48,"value":30.78,"series":"Measured"},{"day":1.57,"value":30.83,"series":"Measured"},{"day":1.68,"value":30.91,"series":"Measured"},{"day":1.75,"value":30.91,"series":"Measured"},{"day":1.84,"value":30.68,"series":"Measured"},{"day":1.93,"value":30.43,"series":"Measured"},{"day":2.04,"value":30.43,"series":"Measured"},{"day":2.15,"value":30.49,"series":"Measured"},{"day":2.24,"value":30.62,"series":"Measured"},{"day":2.33,"value":31.0,"series":"Measured"},{"day":2.43,"value":31.13,"series":"Measured"},{"day":2.49,"value":30.91,"series":"Measured"},{"day":2.58,"value":30.91,"series":"Measured"},{"day":2.70,"value":31.0,"series":"Measured"},{"day":2.79,"value":31.13,"series":"Measured"},{"day":2.88,"value":30.75,"series":"Measured"},{"day":2.97,"value":30.62,"series":"Measured"},{"day":3.06,"value":30.56,"series":"Measured"},{"day":3.15,"value":30.49,"series":"Measured"},{"day":3.24,"value":30.75,"series":"Measured"},{"day":3.33,"value":31.0,"series":"Measured"},{"day":3.42,"value":31.25,"series":"Measured"},{"day":3.51,"value":31.42,"series":"Measured"},{"day":3.58,"value":31.25,"series":"Measured"},{"day":3.65,"value":31.0,"series":"Measured"},{"day":3.71,"value":31.19,"series":"Measured"},{"day":3.80,"value":31.19,"series":"Measured"},{"day":3.89,"value":31.0,"series":"Measured"},{"day":3.98,"value":30.75,"series":"Measured"},{"day":4.12,"value":30.71,"series":"Measured"},{"day":4.25,"value":30.81,"series":"Measured"},{"day":4.34,"value":31.06,"series":"Measured"},{"day":4.44,"value":31.44,"series":"Measured"},{"day":4.50,"value":31.70,"series":"Measured"},{"day":4.57,"value":31.51,"series":"Measured"},{"day":4.66,"value":31.13,"series":"Measured"},{"day":4.75,"value":31.38,"series":"Measured"},{"day":4.86,"value":31.38,"series":"Measured"},{"day":4.95,"value":31.19,"series":"Measured"},{"day":5.04,"value":30.87,"series":"Measured"},{"day":5.16,"value":30.75,"series":"Measured"},{"day":5.25,"value":30.75,"series":"Measured"},{"day":5.36,"value":30.91,"series":"Measured"},{"day":5.45,"value":31.19,"series":"Measured"},{"day":5.54,"value":31.64,"series":"Measured"},{"day":5.61,"value":32.02,"series":"Measured"},{"day":5.66,"value":31.70,"series":"Measured"},{"day":5.72,"value":31.29,"series":"Measured"},{"day":5.81,"value":31.57,"series":"Measured"},{"day":5.95,"value":31.60,"series":"Measured"},{"day":6.04,"value":31.13,"series":"Measured"},{"day":6.11,"value":30.87,"series":"Measured"},{"day":6.22,"value":30.87,"series":"Measured"},{"day":6.31,"value":30.81,"series":"Measured"},{"day":6.40,"value":31.0,"series":"Measured"},{"day":6.49,"value":31.44,"series":"Measured"},{"day":6.60,"value":31.93,"series":"Measured"},{"day":6.65,"value":31.57,"series":"Measured"},{"day":6.72,"value":31.21,"series":"Measured"},{"day":6.83,"value":31.29,"series":"Measured"},{"day":6.92,"value":31.51,"series":"Measured"},{"day":6.96,"value":31.47,"series":"Measured"},{"day":7.0,"value":31.25,"series":"Measured"},
  {"day":0,"value":30.49,"series":"Simulated"},{"day":0.05,"value":30.45,"series":"Simulated"},{"day":0.12,"value":30.62,"series":"Simulated"},{"day":0.19,"value":30.56,"series":"Simulated"},{"day":0.26,"value":30.30,"series":"Simulated"},{"day":0.33,"value":30.43,"series":"Simulated"},{"day":0.42,"value":30.37,"series":"Simulated"},{"day":0.55,"value":30.43,"series":"Simulated"},{"day":0.71,"value":30.43,"series":"Simulated"},{"day":0.87,"value":30.45,"series":"Simulated"},{"day":1.05,"value":30.49,"series":"Simulated"},{"day":1.18,"value":30.56,"series":"Simulated"},{"day":1.30,"value":30.68,"series":"Simulated"},{"day":1.36,"value":30.43,"series":"Simulated"},{"day":1.48,"value":30.37,"series":"Simulated"},{"day":1.59,"value":30.37,"series":"Simulated"},{"day":1.73,"value":30.43,"series":"Simulated"},{"day":1.86,"value":30.56,"series":"Simulated"},{"day":1.97,"value":30.75,"series":"Simulated"},{"day":2.11,"value":30.78,"series":"Simulated"},{"day":2.22,"value":30.78,"series":"Simulated"},{"day":2.33,"value":30.87,"series":"Simulated"},{"day":2.45,"value":30.83,"series":"Simulated"},{"day":2.56,"value":30.83,"series":"Simulated"},{"day":2.67,"value":30.81,"series":"Simulated"},{"day":2.79,"value":30.91,"series":"Simulated"},{"day":2.90,"value":30.68,"series":"Simulated"},{"day":3.03,"value":30.62,"series":"Simulated"},{"day":3.15,"value":30.49,"series":"Simulated"},{"day":3.24,"value":30.68,"series":"Simulated"},{"day":3.33,"value":30.96,"series":"Simulated"},{"day":3.44,"value":31.29,"series":"Simulated"},{"day":3.53,"value":30.68,"series":"Simulated"},{"day":3.62,"value":30.75,"series":"Simulated"},{"day":3.71,"value":30.75,"series":"Simulated"},{"day":3.80,"value":30.91,"series":"Simulated"},{"day":3.89,"value":30.62,"series":"Simulated"},{"day":4.03,"value":30.58,"series":"Simulated"},{"day":4.19,"value":30.56,"series":"Simulated"},{"day":4.32,"value":30.75,"series":"Simulated"},{"day":4.41,"value":31.0,"series":"Simulated"},{"day":4.48,"value":31.42,"series":"Simulated"},{"day":4.53,"value":30.81,"series":"Simulated"},{"day":4.57,"value":30.56,"series":"Simulated"},{"day":4.71,"value":30.62,"series":"Simulated"},{"day":4.86,"value":30.62,"series":"Simulated"},{"day":5.00,"value":30.49,"series":"Simulated"},{"day":5.14,"value":30.37,"series":"Simulated"},{"day":5.27,"value":30.30,"series":"Simulated"},{"day":5.36,"value":30.43,"series":"Simulated"},{"day":5.45,"value":30.68,"series":"Simulated"},{"day":5.51,"value":31.13,"series":"Simulated"},{"day":5.56,"value":30.43,"series":"Simulated"},{"day":5.63,"value":30.24,"series":"Simulated"},{"day":5.72,"value":30.43,"series":"Simulated"},{"day":5.86,"value":30.53,"series":"Simulated"},{"day":5.97,"value":30.43,"series":"Simulated"},{"day":6.08,"value":30.30,"series":"Simulated"},{"day":6.22,"value":30.33,"series":"Simulated"},{"day":6.33,"value":30.37,"series":"Simulated"},{"day":6.42,"value":30.71,"series":"Simulated"},{"day":6.50,"value":30.91,"series":"Simulated"},{"day":6.56,"value":30.56,"series":"Simulated"},{"day":6.63,"value":30.30,"series":"Simulated"},{"day":6.72,"value":30.45,"series":"Simulated"},{"day":6.83,"value":30.68,"series":"Simulated"},{"day":6.94,"value":30.75,"series":"Simulated"},{"day":7.0,"value":30.87,"series":"Simulated"}
 ],
 "fS": [
  {"day":0,"value":30.62},{"day":0.10,"value":30.43},{"day":0.21,"value":30.17},{"day":0.30,"value":29.86},{"day":0.39,"value":30.17},{"day":0.51,"value":31.0},{"day":0.62,"value":31.47},{"day":0.73,"value":31.42},{"day":0.87,"value":31.13},{"day":1.00,"value":30.87},{"day":1.12,"value":30.68},{"day":1.23,"value":30.68},{"day":1.32,"value":30.43},{"day":1.41,"value":31.06},{"day":1.50,"value":31.44},{"day":1.59,"value":31.38},{"day":1.73,"value":31.19},{"day":1.86,"value":31.06},{"day":1.99,"value":30.87},{"day":2.11,"value":30.83},{"day":2.24,"value":30.81},{"day":2.27,"value":30.43},{"day":2.33,"value":31.0},{"day":2.49,"value":31.57},{"day":2.63,"value":31.76},{"day":2.76,"value":31.51},{"day":2.90,"value":31.38},{"day":3.03,"value":31.25},{"day":3.17,"value":31.06},{"day":3.28,"value":30.81},{"day":3.37,"value":31.64},{"day":3.53,"value":31.89},{"day":3.67,"value":32.02},{"day":3.80,"value":31.64},{"day":3.94,"value":31.44},{"day":4.07,"value":31.25},{"day":4.21,"value":31.13},{"day":4.30,"value":31.0},{"day":4.37,"value":31.70},{"day":4.44,"value":32.18},{"day":4.62,"value":32.14},{"day":4.75,"value":32.08},{"day":4.89,"value":31.83},{"day":5.02,"value":31.57},{"day":5.16,"value":31.34},{"day":5.27,"value":31.17},{"day":5.36,"value":31.25},{"day":5.43,"value":32.21},{"day":5.50,"value":32.46},{"day":5.63,"value":32.33},{"day":5.77,"value":32.08},{"day":5.88,"value":31.89},{"day":6.00,"value":31.70},{"day":6.11,"value":31.32},{"day":6.22,"value":31.13},{"day":6.33,"value":31.19},{"day":6.42,"value":31.83},{"day":6.56,"value":32.21},{"day":6.69,"value":32.33},{"day":6.83,"value":32.21},{"day":6.94,"value":31.95},{"day":7.0,"value":31.76}
 ],
 "fP": [
  {"day":0.55,"value":31.15},{"day":1.58,"value":31.5},{"day":2.56,"value":31.88}
 ]
},
"resolve": {"scale": {"color": "independent", "shape": "independent", "fill": "independent", "stroke": "independent", "size": "independent", "strokeDash": "independent"}, "legend": {"color": "independent", "shape": "independent", "fill": "independent", "stroke": "independent", "size": "independent", "strokeDash": "independent"}},
"spacing": 34,
"vconcat": [
 {
  "bounds": "flush",
  "spacing": 39,
  "resolve": {"scale": {"color": "independent"}, "legend": {"color": "independent"}},
  "vconcat": [
   {
    "width": 666, "height": 114,
    "title": {"text": "a", "offset": -66},
    "layer": [
     {
      "data": {"name": "a"},
      "mark": {"type": "line"},
      "encoding": {
       "x": {"field": "day", "type": "quantitative", "scale": {"domain": [0, 7], "nice": false, "zero": false}, "axis": {"values": [0,1,2,3,4,5,6,7], "labels": false, "title": null, "grid": false}},
       "y": {"field": "value", "type": "quantitative", "scale": {"domain": [-0.8, 0.8], "nice": false, "zero": false}, "axis": {"values": [-0.8, 0, 0.8], "title": "(m)", "labelExpr": "datum.value < 0 ? '-' + format(-datum.value, '~g') : format(datum.value, '~g')"}},
       "color": {"field": "series", "type": "nominal", "scale": {"domain": ["Measured", "Simulated"], "range": ["#0070C0", "#FF0000"]},
        "legend": {"orient": "top", "direction": "horizontal", "title": null, "symbolType": "stroke", "symbolSize": 1089, "symbolStrokeWidth": 3, "symbolOffset": 7, "labelOffset": 12, "columnPadding": 24, "offset": 20, "padding": 2}}
      }
     },
     {
      "data": {"values": [{"t": "Water level  (B2)"}]},
      "mark": {"type": "text"},
      "encoding": {"x": {"datum": 0.09, "type": "quantitative"}, "y": {"datum": 0.575, "type": "quantitative"}, "text": {"field": "t"}}
     }
    ]
   },
   {
    "width": 666, "height": 132,
    "title": {"text": "b", "offset": -14},
    "layer": [
     {
      "data": {"name": "b"},
      "mark": {"type": "line"},
      "encoding": {
       "x": {"field": "day", "type": "quantitative", "scale": {"domain": [0, 7], "nice": false, "zero": false}, "axis": {"values": [0,1,2,3,4,5,6,7], "labels": false, "title": null, "grid": false}},
       "y": {"field": "value", "type": "quantitative", "scale": {"domain": [-0.2, 0.2], "nice": false, "zero": false}, "axis": {"values": [-0.2, 0, 0.2], "title": "(m s⁻¹)", "labelExpr": "datum.value < 0 ? '-' + format(-datum.value, '~g') : format(datum.value, '~g')"}},
       "color": {"field": "series", "type": "nominal", "scale": {"domain": ["Measured", "Simulated"], "range": ["#0070C0", "#FF0000"]}, "legend": null}
      }
     },
     {
      "data": {"values": [{"t": "Velocity (B2)"}]},
      "mark": {"type": "text"},
      "encoding": {"x": {"datum": 0.09, "type": "quantitative"}, "y": {"datum": 0.16, "type": "quantitative"}, "text": {"field": "t"}}
     }
    ]
   },
   {
    "width": 666, "height": 132,
    "title": {"text": "c", "offset": -20},
    "layer": [
     {
      "data": {"name": "c"},
      "mark": {"type": "line"},
      "encoding": {
       "x": {"field": "day", "type": "quantitative", "scale": {"domain": [0, 7], "nice": false, "zero": false}, "axis": {"values": [0,1,2,3,4,5,6,7], "labels": false, "title": null, "grid": false}},
       "y": {"field": "value", "type": "quantitative", "scale": {"domain": [-0.2, 0.2], "nice": false, "zero": false}, "axis": {"values": [-0.2, 0, 0.2], "title": "(m s⁻¹)", "labelExpr": "datum.value < 0 ? '-' + format(-datum.value, '~g') : format(datum.value, '~g')"}},
       "color": {"field": "series", "type": "nominal", "scale": {"domain": ["Measured", "Simulated"], "range": ["#0070C0", "#FF0000"]}, "legend": null}
      }
     },
     {
      "data": {"values": [{"t": "Velocity (B3)"}]},
      "mark": {"type": "text"},
      "encoding": {"x": {"datum": 0.09, "type": "quantitative"}, "y": {"datum": 0.14, "type": "quantitative"}, "text": {"field": "t"}}
     }
    ]
   },
   {
    "width": 666, "height": 132,
    "title": {"text": "d", "offset": -21},
    "layer": [
     {
      "data": {"name": "d"},
      "mark": {"type": "line"},
      "encoding": {
       "x": {"field": "day", "type": "quantitative", "scale": {"domain": [0, 7], "nice": false, "zero": false}, "axis": {"values": [0,1,2,3,4,5,6,7], "labels": false, "title": null, "grid": false}},
       "y": {"field": "value", "type": "quantitative", "scale": {"domain": [-0.6, 0.6], "nice": false, "zero": false}, "axis": {"values": [-0.6, 0, 0.6], "title": "(m s⁻¹)", "labelExpr": "datum.value < 0 ? '-' + format(-datum.value, '~g') : format(datum.value, '~g')"}},
       "color": {"field": "series", "type": "nominal", "scale": {"domain": ["Measured", "Simulated"], "range": ["#0070C0", "#FF0000"]}, "legend": null}
      }
     },
     {
      "data": {"values": [{"t": "Velocity (B4)"}]},
      "mark": {"type": "text"},
      "encoding": {"x": {"datum": 0.09, "type": "quantitative"}, "y": {"datum": -0.4, "type": "quantitative"}, "text": {"field": "t"}}
     }
    ]
   }
  ]
 },
 {
  "bounds": "flush",
  "spacing": 43,
  "resolve": {"scale": {"color": "independent", "shape": "independent", "fill": "independent", "stroke": "independent", "size": "independent", "strokeDash": "independent"}, "legend": {"color": "independent", "shape": "independent", "fill": "independent", "stroke": "independent", "size": "independent", "strokeDash": "independent"}},
  "vconcat": [
   {
    "width": 666, "height": 172,
    "title": {"text": "e", "offset": -84},
    "layer": [
     {
      "data": {"name": "e"},
      "mark": {"type": "line"},
      "encoding": {
       "x": {"field": "day", "type": "quantitative", "scale": {"domain": [0, 7], "nice": false, "zero": false}, "axis": {"values": [0,1,2,3,4,5,6,7], "labels": false, "title": null, "grid": false}},
       "y": {"field": "value", "type": "quantitative", "scale": {"domain": [5, 35], "nice": false, "zero": false}, "axis": {"values": [5, 20, 35], "title": "(psu)", "titlePadding": 24}},
       "color": {"field": "series", "type": "nominal", "scale": {"domain": ["Measured", "Simulated"], "range": ["#0070C0", "#FF0000"]},
        "legend": {"orient": "top", "direction": "horizontal", "title": "Bottom layer", "titlePadding": 2, "symbolType": "stroke", "symbolSize": 1089, "symbolStrokeWidth": 3, "symbolOffset": 5, "labelOffset": 8, "columnPadding": 20, "offset": 0, "padding": 5}}
      }
     },
     {
      "data": {"name": "eS"},
      "mark": {"type": "line", "color": "#FF0000", "strokeDash": [8, 6]},
      "encoding": {
       "x": {"field": "day", "type": "quantitative"},
       "y": {"field": "value", "type": "quantitative"}
      }
     },
     {
      "data": {"name": "eP"},
      "mark": {"type": "point", "filled": true, "opacity": 1, "strokeWidth": 3},
      "encoding": {
       "x": {"field": "day", "type": "quantitative"},
       "y": {"field": "value", "type": "quantitative"},
       "fill": {"field": "kind", "type": "nominal", "scale": {"domain": ["sM", "sS"], "range": ["#0070C0", "transparent"]},
        "legend": {"orient": "top", "direction": "horizontal", "title": "Surface layer", "titlePadding": 2, "symbolStrokeWidth": 3, "symbolFillColor": "transparent", "symbolStrokeColor": "transparent", "labelOffset": 8, "columnPadding": 20, "offset": 0, "padding": 5, "labelExpr": "datum.value === 'sS' ? 'Simulated' : 'Measured'"}},
       "stroke": {"field": "kind", "type": "nominal", "scale": {"domain": ["sM", "sS"], "range": ["transparent", "#FF0000"]},
        "legend": {"orient": "top", "direction": "horizontal", "title": "Surface layer", "titlePadding": 2, "symbolStrokeWidth": 3, "symbolFillColor": "transparent", "symbolStrokeColor": "transparent", "labelOffset": 8, "columnPadding": 20, "offset": 0, "padding": 5, "labelExpr": "datum.value === 'sS' ? 'Simulated' : 'Measured'"}},
       "shape": {"field": "kind", "type": "nominal", "scale": {"domain": ["sM", "sS"], "range": ["circle", "stroke"]},
        "legend": {"orient": "top", "direction": "horizontal", "title": "Surface layer", "titlePadding": 2, "symbolStrokeWidth": 3, "symbolFillColor": "transparent", "symbolStrokeColor": "transparent", "labelOffset": 8, "columnPadding": 20, "offset": 0, "padding": 5, "labelExpr": "datum.value === 'sS' ? 'Simulated' : 'Measured'"}},
       "strokeDash": {"field": "kind", "type": "nominal", "scale": {"domain": ["sM", "sS"], "range": [[1, 0], [8, 6]]},
        "legend": {"orient": "top", "direction": "horizontal", "title": "Surface layer", "titlePadding": 2, "symbolStrokeWidth": 3, "symbolFillColor": "transparent", "symbolStrokeColor": "transparent", "labelOffset": 8, "columnPadding": 20, "offset": 0, "padding": 5, "labelExpr": "datum.value === 'sS' ? 'Simulated' : 'Measured'"}},
       "size": {"field": "kind", "type": "ordinal", "scale": {"type": "point", "padding": 0, "domain": ["sM", "sS"], "range": [160, 1089]},
        "legend": {"orient": "top", "direction": "horizontal", "title": "Surface layer", "titlePadding": 2, "symbolStrokeWidth": 3, "symbolFillColor": "transparent", "symbolStrokeColor": "transparent", "labelOffset": 8, "columnPadding": 20, "offset": 0, "padding": 5, "labelExpr": "datum.value === 'sS' ? 'Simulated' : 'Measured'"}}
      }
     },
     {
      "data": {"values": [{"t": "Salinity (B4)"}]},
      "mark": {"type": "text"},
      "encoding": {"x": {"datum": 0.16, "type": "quantitative"}, "y": {"datum": 8.1, "type": "quantitative"}, "text": {"field": "t"}}
     }
    ]
   },
   {
    "width": 666, "height": 156,
    "title": {"text": "f", "offset": -28},
    "layer": [
     {
      "data": {"name": "f"},
      "mark": {"type": "line"},
      "encoding": {
       "x": {"field": "day", "type": "quantitative", "scale": {"domain": [0, 7], "nice": false, "zero": false}, "axis": {"values": [0,1,2,3,4,5,6,7], "title": null, "grid": false, "labelExpr": "'9/' + (13 + datum.value)"}},
       "y": {"field": "value", "type": "quantitative", "scale": {"domain": [28, 34], "nice": false, "zero": false}, "axis": {"values": [28, 31, 34], "title": "(degree)", "titlePadding": 24}},
       "color": {"field": "series", "type": "nominal", "scale": {"domain": ["Measured", "Simulated"], "range": ["#0070C0", "#FF0000"]}, "legend": null}
      }
     },
     {
      "data": {"name": "fS"},
      "mark": {"type": "line", "color": "#FF0000", "strokeDash": [8, 6]},
      "encoding": {
       "x": {"field": "day", "type": "quantitative"},
       "y": {"field": "value", "type": "quantitative"}
      }
     },
     {
      "data": {"name": "fP"},
      "mark": {"type": "point", "filled": true, "color": "#0070C0", "size": 160, "opacity": 1, "shape": "circle"},
      "encoding": {
       "x": {"field": "day", "type": "quantitative"},
       "y": {"field": "value", "type": "quantitative"}
      }
     },
     {
      "data": {"values": [{"t": "Temperature (B4)"}]},
      "mark": {"type": "text"},
      "encoding": {"x": {"datum": 0.12, "type": "quantitative"}, "y": {"datum": 28.69, "type": "quantitative"}, "text": {"field": "t"}}
     }
    ]
   }
  ]
 }
]
}
